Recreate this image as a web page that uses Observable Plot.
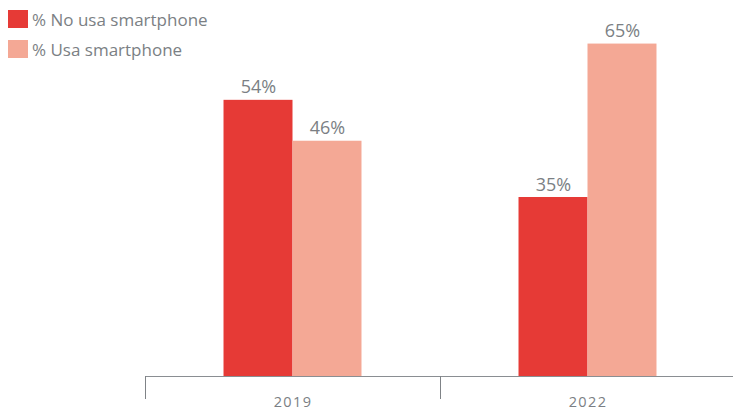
<!DOCTYPE html>
<html>
<head>
<meta charset="utf-8">
<script src="https://cdn.jsdelivr.net/npm/d3@7"></script>
<script src="https://cdn.jsdelivr.net/npm/@observablehq/plot@0.6"></script>
<style>
  body { margin: 0; background: #fff; font-family: "Open Sans", sans-serif; }
  #wrap { position: relative; width: 733px; height: 410px; }
  #legend { position: absolute; left: 8px; top: 4px; color: #7b7f84; font-size: 17px; }
  .item { display: flex; align-items: center; height: 30px; }
  .sw { width: 20px; height: 18px; margin-right: 4px; }
  g[aria-label="fx-axis tick label"] text { font-size: 14.5px; letter-spacing: 1.4px; }
</style>
</head>
<body>
<div id="wrap"><div id="legend"></div></div>
<script>
const years = ["2019", "2022"];
const seriesNames = ["% No usa smartphone", "% Usa smartphone"];
const noUsa = [54, 35];
const usa = [46, 65];
const colors = ["#e63a36", "#f4a895"];

const rows = [];
years.forEach((yr, i) => {
  rows.push({year: yr, series: seriesNames[0], value: noUsa[i]});
  rows.push({year: yr, series: seriesNames[1], value: usa[i]});
});

const textColor = "#7b7f84";
const plot = Plot.plot({
  width: 733,
  height: 410,
  marginLeft: 145,
  marginRight: -2,
  marginTop: 18,
  marginBottom: 34,
  style: {fontFamily: "Open Sans, sans-serif", background: "transparent", overflow: "visible"},
  fx: {domain: years, paddingInner: 0, paddingOuter: 0, axis: null, label: null},
  x: {domain: seriesNames, paddingInner: 0, paddingOuter: 1.138, round: false, axis: null},
  y: {domain: [0, 70], axis: null},
  color: {domain: seriesNames, range: colors},
  marks: [
    Plot.barY(rows, {fx: "year", x: "series", y: "value", fill: "series"}),
    Plot.text(rows, {fx: "year", x: "series", y: "value", text: d => d.value + "%", lineAnchor: "bottom", dy: -7, fontSize: 18, fill: textColor}),
    Plot.ruleY([0], {stroke: "#8a8e92", strokeWidth: 1}),
    Plot.axisFx({anchor: "bottom", tickSize: 23, tickFormat: () => "", dx: -147.5, stroke: "#7f8387", label: null}),
    Plot.axisFx({anchor: "bottom", tickSize: 0, tickPadding: 20, fontSize: 14, fill: textColor, label: null})
  ]
});
document.getElementById("wrap").prepend(plot);

const legend = document.getElementById("legend");
seriesNames.forEach((s, i) => {
  const it = document.createElement("div");
  it.className = "item";
  const sw = document.createElement("span");
  sw.className = "sw";
  sw.style.background = colors[i];
  const t = document.createElement("span");
  t.textContent = s;
  it.append(sw, t);
  legend.append(it);
});
</script>
</body>
</html>
